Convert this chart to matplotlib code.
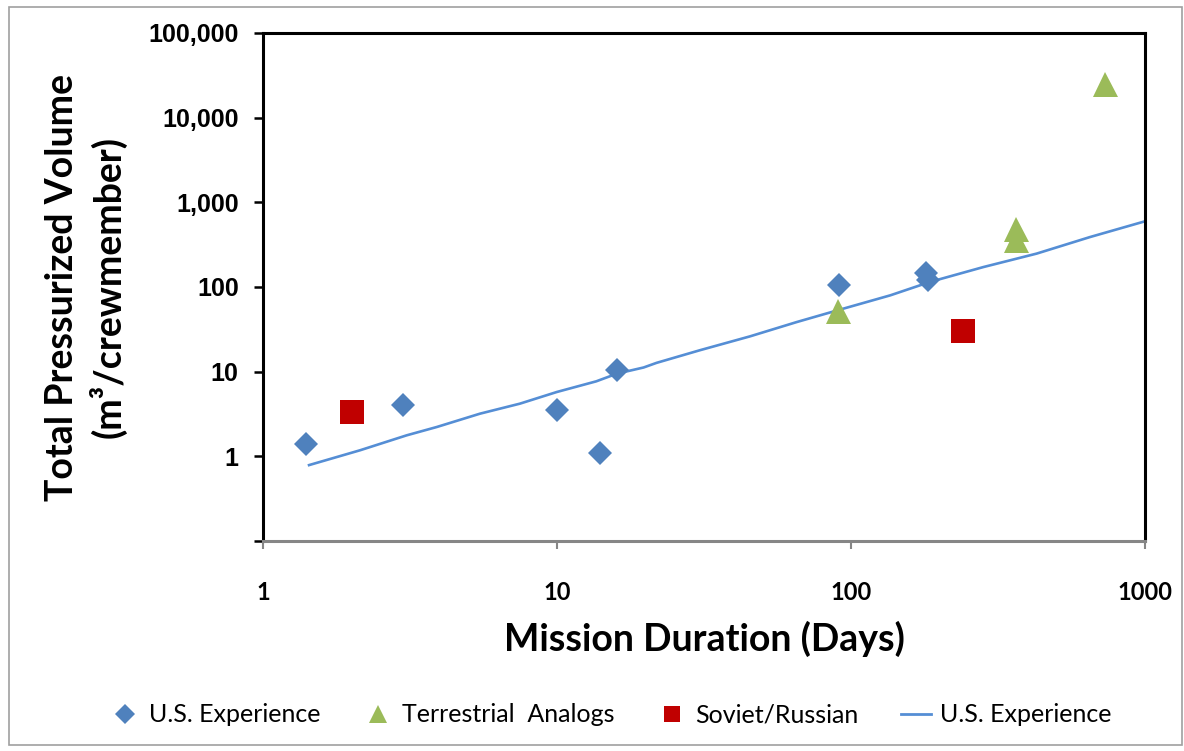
import matplotlib
matplotlib.use("Agg")
import matplotlib.pyplot as plt
from matplotlib.lines import Line2D
from matplotlib.patches import Rectangle

# Data
us_x = [1.4, 3.0, 10.0, 14.0, 16.0, 91.0, 180.0, 183.0]
us_y = [1.4, 4.0, 3.5, 1.1, 10.5, 105.0, 145.0, 122.0]

terr_x = [90.0, 365.0, 365.0, 730.0]
terr_y = [52.0, 480.0, 360.0, 25000.0]

sov_x = [2.0, 240.0]
sov_y = [3.3, 30.0]

trend_x = [1.42, 2.14, 3.08, 3.9, 5.47, 7.48, 9.98, 13.6, 16.0, 19.7, 21.8,
           30.6, 45.3, 65.3, 91.6, 136, 186, 282, 428, 650, 1000]
trend_y = [0.78, 1.18, 1.77, 2.22, 3.19, 4.19, 5.75, 7.69, 9.48, 11.2, 12.7,
           17.9, 26.1, 38.5, 54.0, 79.7, 115, 172, 248, 389, 597]

x_ticks = [1, 10, 100, 1000]
x_tick_labels = ["1", "10", "100", "1000"]
y_ticks = [0.1, 1, 10, 100, 1000, 10000, 100000]
y_tick_labels = ["", "1", "10", "100", "1,000", "10,000", "100,000"]

c_us = "#4F81BD"
c_terr = "#9BBB59"
c_sov = "#C00000"
c_line = "#558ED5"

W, H = 1184, 751
fig = plt.figure(figsize=(W / 100, H / 100), dpi=100)
fig.patch.set_facecolor("white")
fig.patches.append(Rectangle((9 / W, 1 - 745 / H), (1182 - 9) / W, (745 - 7) / H,
                             transform=fig.transFigure, fill=False,
                             edgecolor="#A0A0A0", linewidth=1.2))

ax = fig.add_axes([263 / W, 1 - 541 / H, (1145 - 263) / W, (541 - 33) / H])
ax.set_xscale("log")
ax.set_yscale("log")
ax.set_xlim(1, 1000)
ax.set_ylim(0.1, 100000)

ax.plot(trend_x, trend_y, color=c_line, linewidth=1.9, zorder=2, solid_capstyle="butt")
ax.plot(us_x, us_y, linestyle="none", marker="D", markersize=12.5, color=c_us,
        markeredgewidth=0, zorder=3)
ax.plot(terr_x, terr_y, linestyle="none", marker="^", markersize=18, color=c_terr,
        markeredgewidth=0, zorder=3)
ax.plot(sov_x, sov_y, linestyle="none", marker="s", markersize=17, color=c_sov,
        markeredgewidth=0, zorder=3)

ax.minorticks_off()
ax.set_xticks(x_ticks)
ax.set_xticklabels(x_tick_labels, fontfamily="Lato", fontweight="bold", fontsize=17)
ax.set_yticks(y_ticks)
ax.set_yticklabels(y_tick_labels, fontfamily="Liberation Sans", fontweight="bold", fontsize=18)
ax.minorticks_off()

for s in ["left", "top", "right"]:
    ax.spines[s].set_color("black")
    ax.spines[s].set_linewidth(2.2)
ax.spines["bottom"].set_color("#868686")
ax.spines["bottom"].set_linewidth(2.2)
ax.tick_params(axis="y", direction="out", length=6.5, width=1.8, color="black", pad=11)
ax.tick_params(axis="x", direction="out", length=6, width=1.5, color="#868686", pad=23)

ax.set_xlabel("Mission Duration (Days)", fontfamily="Lato", fontweight="bold",
              fontsize=27, labelpad=12)
fig.text(86 / W, 1 - 287 / H, "Total Pressurized Volume\n(m³/crewmember)",
         rotation=90, ha="center", va="center", multialignment="center",
         fontfamily="Lato", fontweight="bold", fontsize=27, linespacing=1.3)

handles = [
    Line2D([], [], linestyle="none", marker="D", markersize=10, color=c_us, markeredgewidth=0),
    Line2D([], [], linestyle="none", marker="^", markersize=13, color=c_terr, markeredgewidth=0),
    Line2D([], [], linestyle="none", marker="s", markersize=12, color=c_sov, markeredgewidth=0),
    Line2D([], [], color=c_line, linewidth=2.0),
]
labels = ["U.S. Experience", "Terrestrial  Analogs", "Soviet/Russian", "U.S. Experience"]
fig.legend(handles, labels, loc="center", bbox_to_anchor=(611 / W, 1 - 715 / H), ncol=4,
           frameon=False, prop={"family": "Lato", "size": 18},
           handlelength=1.2, handletextpad=0.35, columnspacing=1.7, borderpad=0)

fig.savefig("out.png", dpi=100, facecolor="white")
